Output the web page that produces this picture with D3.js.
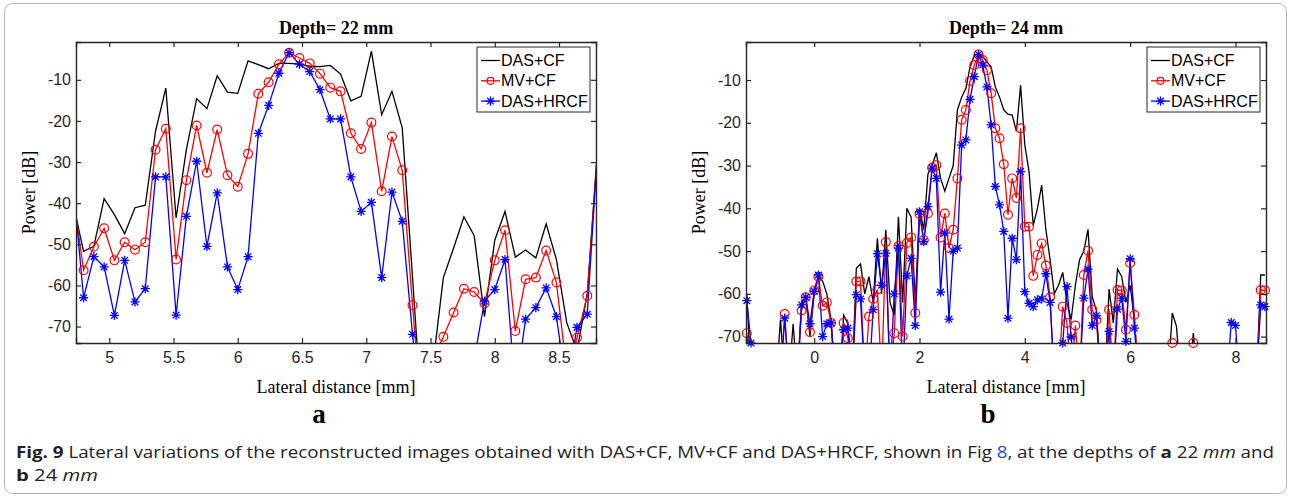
<!DOCTYPE html>
<html>
<head>
<meta charset="utf-8">
<script src="https://cdn.jsdelivr.net/npm/d3@7/dist/d3.min.js"></script>
<style>
  body { margin: 0; background: #fff; }
</style>
</head>
<body>
<div class="chart"></div>
<script>
// ---- data -------------------------------------------------------------
var seriesNames = ["DAS+CF", "MV+CF", "DAS+HRCF"];

// panel a (depth 22 mm): lateral positions [mm] and power [dB]
var latA = [4.72, 4.80, 4.88, 4.96, 5.04, 5.12, 5.20, 5.28, 5.36, 5.44, 5.52, 5.60, 5.68,
  5.76, 5.84, 5.92, 6.00, 6.08, 6.16, 6.24, 6.32, 6.40, 6.48, 6.56, 6.64, 6.72, 6.80,
  6.88, 6.96, 7.04, 7.12, 7.20, 7.28, 7.36, 7.44, 7.52, 7.60, 7.68, 7.76, 7.84, 7.92,
  8.00, 8.08, 8.16, 8.24, 8.32, 8.40, 8.48, 8.56, 8.64, 8.72, 8.80];
var dasCfA = [-40.3, -51.7, -50.5, -38.9, -42.8, -47.4, -41.1, -40.5, -22.5, -12, -43.6, -27, -14.6,
  -17, -9, -13, -13.3, -5.4, -6.3, -7.3, -6, -6, -6.2, -6.7, -6.8, -6.5, -8.6,
  -15.1, -14, -3, -18.5, -12.8, -21.7, -58, -95, -79, -58.1, -50.9, -43.3, -47.9, -67.6,
  -49, -42, -53.1, -51.4, -53.3, -45, -53.7, -69, -76, -62, -27];
var mvCfA = [-38.4, -56.3, -50.6, -46.1, -53.9, -49.5, -51.3, -49.5, -27, -21.9, -53.7, -34.4, -21.1,
  -32.6, -22.1, -33.2, -36, -28, -13.4, -10.6, -6.2, -3.4, -4.7, -6, -8.5, -11.9, -12.8,
  -23, -26.8, -20.4, -37.1, -23.8, -32, -64.8, -95, -78, -72.5, -66.6, -60.8, -61.6, -64.4,
  -53.9, -46.6, -71.1, -58.5, -58.1, -51.5, -59.3, -80.7, -72.7, -62.5, -27];
var dasHrcfA = [-35.6, -63, -53, -55.5, -67.3, -53.9, -64, -60.8, -33.6, -33.6, -67.2, -43.2, -29.8,
  -50.5, -37.5, -55.5, -61, -53, -23, -16.2, -8.4, -3.4, -6.2, -8, -12.4, -19.5, -19.5,
  -33.6, -42, -39.8, -58.1, -37.3, -44.4, -71.9, -95, -95, -95, -95, -95, -78, -63.8,
  -61, -53.7, -86, -68.2, -65.4, -60.6, -67.6, -85, -70.2, -67, -27];

// panel b (depth 24 mm); -80 = below the plotted range
var latB = [-1.28, -1.20, -1.12, -1.04, -0.96, -0.88, -0.80, -0.72, -0.64, -0.56,
  -0.48, -0.40, -0.32, -0.24, -0.16, -0.08, 0.00, 0.08, 0.16, 0.24,
  0.32, 0.40, 0.48, 0.56, 0.64, 0.72, 0.80, 0.88, 0.96, 1.04,
  1.12, 1.20, 1.28, 1.36, 1.44, 1.52, 1.60, 1.68, 1.76, 1.84,
  1.92, 2.00, 2.08, 2.16, 2.24, 2.32, 2.40, 2.48, 2.56, 2.64,
  2.72, 2.80, 2.88, 2.96, 3.04, 3.12, 3.20, 3.28, 3.36, 3.44,
  3.52, 3.60, 3.68, 3.76, 3.84, 3.92, 4.00, 4.08, 4.16, 4.24,
  4.32, 4.40, 4.48, 4.56, 4.64, 4.72, 4.80, 4.88, 4.96, 5.04,
  5.12, 5.20, 5.28, 5.36, 5.44, 5.52, 5.60, 5.68, 5.76, 5.84,
  5.92, 6.00, 6.08, 6.16, 6.24, 6.32, 6.40, 6.48, 6.56, 6.64,
  6.72, 6.80, 6.88, 6.96, 7.04, 7.12, 7.20, 7.28, 7.36, 7.44,
  7.52, 7.60, 7.68, 7.76, 7.84, 7.92, 8.00, 8.08, 8.16, 8.24,
  8.32, 8.40, 8.48, 8.56];
var dasCfB = [-60, -80, -80, -80, -80, -80, -80, -80, -66, -80,
  -80, -67, -80, -62, -61, -70, -60, -56, -57, -60,
  -66, -80, -80, -65, -67, -80, -54, -53, -60, -56,
  -62, -47, -60, -45, -62, -65, -42, -62, -40, -42,
  -62, -40, -45, -32, -30, -27, -33, -36, -33, -30,
  -17, -14, -12, -7, -4.2, -4, -4.5, -5.7, -6.9, -11.6,
  -14, -17, -18, -18.2, -22, -11.2, -25.2, -31.4, -44, -40,
  -34.6, -45, -52, -60, -58, -55, -62, -66, -58, -52,
  -50, -44.9, -60.6, -64, -80, -80, -58.9, -66.8, -54.2, -56,
  -62, -58, -66, -80, -80, -80, -80, -80, -80, -80,
  -80, -64.5, -67.6, -80, -80, -80, -69.2, -80, -80, -80,
  -80, -80, -80, -80, -80, -80, -80, -80, -80, -80,
  -80, -80, -55.6, -55.6];
var mvCfB = [-69.2, -80, -80, -80, -80, -80, -80, -80, -80, -64.7,
  -80, -80, -80, -63.9, -60.8, -69, -59.2, -56, -62.8, -62,
  -66.8, -80, -80, -66.8, -70.4, -80, -57.1, -57.1, -80, -65.3,
  -61.2, -59, -80, -47.9, -80, -69.2, -48.8, -70, -48.1, -46.8,
  -64.5, -41.3, -47.4, -41.2, -30.5, -29.9, -46.8, -41.2, -49.3, -45,
  -33, -19.3, -17, -10.2, -6.5, -4, -5.3, -7.7, -13.1, -21.3,
  -23.6, -29.7, -41.5, -33, -37.6, -21.3, -44.3, -44.3, -55.8, -50.9,
  -48.2, -53.4, -60.8, -80, -80, -63, -66.8, -80, -67.4, -80,
  -55.6, -49.9, -63.7, -66.1, -80, -80, -63.7, -80, -59.1, -59.2,
  -68.4, -52.8, -64.9, -80, -80, -80, -80, -80, -80, -80,
  -80, -71.5, -80, -80, -80, -80, -71.5, -80, -80, -80,
  -80, -80, -80, -80, -80, -80, -80, -80, -80, -80,
  -80, -80, -59.1, -59.2];
var dasHrcfB = [-61.6, -71.5, -80, -80, -80, -80, -80, -80, -80, -65.7,
  -80, -80, -80, -62.6, -60.8, -67, -59.4, -55.6, -70, -67,
  -66.8, -80, -80, -68.4, -68, -80, -60.2, -61.2, -80, -80,
  -63.7, -50.6, -58, -50.5, -80, -60, -49.3, -80, -55.8, -51.7,
  -67.4, -40.8, -47.8, -39.6, -30.6, -33, -59.6, -45.8, -65.9, -50,
  -49.3, -25.2, -24, -14.5, -9.2, -4, -6.5, -11.6, -20.5, -34.9,
  -39.2, -45.4, -65.7, -47, -52, -31.4, -59.5, -62.2, -63, -61.4,
  -61.2, -55.3, -62, -80, -80, -71.5, -58.3, -70.1, -80, -80,
  -61, -54.2, -67.4, -65.1, -80, -80, -68.8, -80, -63.6, -61,
  -71.1, -51.8, -68, -80, -80, -80, -80, -80, -80, -80,
  -80, -80, -80, -80, -80, -80, -80, -80, -80, -80,
  -80, -80, -80, -80, -80, -66.7, -67.4, -80, -80, -80,
  -80, -80, -62.6, -63];

var ticksA = [5, 5.5, 6, 6.5, 7, 7.5, 8, 8.5];
var ticksB = [0, 2, 4, 6, 8];
var ticksY = [-70, -60, -50, -40, -30, -20, -10];

// ---- drawing ----------------------------------------------------------
var svg = d3.select(".chart").append("svg")
  .attr("width", 1291)
  .attr("height", 497)
  .style("display", "block");

// rounded figure frame
svg.append("rect")
  .attr("x", 4.5).attr("y", 3.5)
  .attr("width", 1282).attr("height", 490)
  .attr("rx", 8)
  .attr("fill", "none")
  .attr("stroke", "#b5b5b5");

var colors = ["#000000", "#ff0000", "#0000ff"];

function star(g, x, y, c) {
  var s = 4.6, d = 3.3;
  g.append("path")
    .attr("d", `M${x - s},${y}H${x + s}M${x},${y - s}V${y + s}` +
      `M${x - d},${y - d}L${x + d},${y + d}M${x - d},${y + d}L${x + d},${y - d}`)
    .attr("stroke", c).attr("stroke-width", 1.3).attr("fill", "none");
}

function drawPanel(p) {
  var g = svg.append("g").attr("transform", `translate(${p.left}, ${p.top})`);
  var w = p.width, h = p.height;

  var x = d3.scaleLinear().domain(p.xDomain).range([0, w]);
  var y = d3.scaleLinear().domain(p.yDomain).range([h, 0]);

  g.append("clipPath").attr("id", p.id)
    .append("rect").attr("width", w).attr("height", h);

  var line = d3.line()
    .x((d, i) => x(p.lat[i]))
    .y(d => y(d));

  var series = [p.das, p.mv, p.hrcf];
  series.forEach(function(s, k) {
    g.append("path")
      .datum(s)
      .attr("d", line)
      .attr("clip-path", `url(#${p.id})`)
      .attr("fill", "none")
      .attr("stroke", colors[k])
      .attr("stroke-width", 1.3)
      .attr("stroke-linejoin", "miter");
  });

  // markers (drawn only where the point lies inside the axes)
  var inside = i => p.lat[i] >= p.xDomain[0] - 1e-6 && p.lat[i] <= p.xDomain[1] + 1e-6;
  p.mv.forEach(function(v, i) {
    if (v >= p.yDomain[0] - 0.05 && inside(i)) {
      g.append("circle")
        .attr("cx", x(p.lat[i])).attr("cy", y(Math.max(v, p.yDomain[0])))
        .attr("r", 4.4)
        .attr("fill", "none").attr("stroke", colors[1]).attr("stroke-width", 1.2);
    }
  });
  p.hrcf.forEach(function(v, i) {
    if (v >= p.yDomain[0] - 0.05 && inside(i)) {
      star(g, x(p.lat[i]), y(Math.max(v, p.yDomain[0])), colors[2]);
    }
  });

  // axes with inward ticks, box on
  var axisColor = "#262626";
  var xb = g.append("g").attr("transform", `translate(0, ${h})`)
    .call(d3.axisBottom(x).tickValues(p.xTicks).tickSize(-5).tickPadding(9).tickFormat(d3.format("")));
  var xt = g.append("g")
    .call(d3.axisTop(x).tickValues(p.xTicks).tickSize(-5).tickFormat(""));
  var yl = g.append("g")
    .call(d3.axisLeft(y).tickValues(ticksY).tickSize(-5).tickPadding(5));
  var yr = g.append("g").attr("transform", `translate(${w}, 0)`)
    .call(d3.axisRight(y).tickValues(ticksY).tickSize(-5).tickFormat(""));

  [xb, xt, yl, yr].forEach(function(a) {
    a.select(".domain").attr("stroke", axisColor).attr("stroke-width", 1.4);
    a.selectAll(".tick line").attr("stroke", axisColor).attr("stroke-width", 1.2);
    a.selectAll("text")
      .attr("fill", "#262626")
      .style("font-family", "'Liberation Sans', Arial, sans-serif")
      .style("font-size", "16px");
  });
  yl.selectAll("text").text(d => String(d));

  // title and labels
  g.append("text")
    .attr("x", w / 2).attr("y", -8)
    .attr("text-anchor", "middle")
    .style("font-family", "'Liberation Serif', 'Times New Roman', serif")
    .style("font-weight", "bold")
    .style("font-size", "18px")
    .text(p.title);

  g.append("text")
    .attr("x", w / 2).attr("y", h + 50)
    .attr("text-anchor", "middle")
    .style("font-family", "'Liberation Serif', 'Times New Roman', serif")
    .style("font-size", "18px")
    .text("Lateral distance [mm]");

  g.append("text")
    .attr("transform", `translate(${-41}, ${h / 2}) rotate(-90)`)
    .attr("text-anchor", "middle")
    .style("font-family", "'Liberation Serif', 'Times New Roman', serif")
    .style("font-size", "18px")
    .text("Power [dB]");

  g.append("text")
    .attr("x", w / 2 + p.letterDx).attr("y", h + 80)
    .attr("text-anchor", "middle")
    .style("font-family", "'Liberation Serif', 'Times New Roman', serif")
    .style("font-weight", "bold")
    .style("font-size", "27px")
    .text(p.letter);

  // legend
  var lg = g.append("g").attr("transform", `translate(${w - 119}, 5)`);
  lg.append("rect")
    .attr("width", 113).attr("height", 65)
    .attr("fill", "#fff").attr("stroke", "#262626").attr("stroke-width", 1);
  seriesNames.forEach(function(name, k) {
    var cy = 13.5 + k * 20.3;
    lg.append("line")
      .attr("x1", 4).attr("x2", 23).attr("y1", cy).attr("y2", cy)
      .attr("stroke", colors[k]).attr("stroke-width", 1.3);
    if (k === 1) {
      lg.append("circle").attr("cx", 13.5).attr("cy", cy).attr("r", 3.5)
        .attr("fill", "none").attr("stroke", colors[1]).attr("stroke-width", 1.2);
    }
    if (k === 2) star(lg, 13.5, cy, colors[2]);
    lg.append("text")
      .attr("x", 24).attr("y", cy + 5.5)
      .style("font-family", "'Liberation Sans', Arial, sans-serif")
      .style("font-size", "16px")
      .attr("fill", "#000")
      .text(name);
  });
}

drawPanel({
  id: "clipA", left: 76, top: 42, width: 520, height: 301,
  xDomain: [4.741, 8.788], yDomain: [-74, -0.8],
  xTicks: ticksA, lat: latA, das: dasCfA, mv: mvCfA, hrcf: dasHrcfA,
  title: "Depth= 22 mm", letter: "a", letterDx: -17
});

drawPanel({
  id: "clipB", left: 746, top: 42, width: 520, height: 301,
  xDomain: [-1.295, 8.58], yDomain: [-71.5, -1.1],
  xTicks: ticksB, lat: latB, das: dasCfB, mv: mvCfB, hrcf: dasHrcfB,
  title: "Depth= 24 mm", letter: "b", letterDx: -18
});

// caption
var cap = svg.append("g")
  .style("font-family", "'Open Sans', 'Noto Sans', sans-serif")
  .style("font-size", "16px")
  .attr("fill", "#222");

var line1 = cap.append("text").attr("x", 16).attr("y", 458)
  .attr("textLength", 1258).attr("lengthAdjust", "spacingAndGlyphs");
line1.append("tspan").style("font-weight", "bold").text("Fig. 9");
line1.append("tspan").text(" Lateral variations of the reconstructed images obtained with DAS+CF, MV+CF and DAS+HRCF, shown in Fig ");
line1.append("tspan").attr("fill", "#1a4bd6").text("8");
line1.append("tspan").text(", at the depths of ");
line1.append("tspan").style("font-weight", "bold").text("a");
line1.append("tspan").text(" 22 ");
line1.append("tspan").style("font-style", "italic").text("mm");
line1.append("tspan").text(" and");

var line2 = cap.append("text").attr("x", 16).attr("y", 481)
  .attr("textLength", 82).attr("lengthAdjust", "spacingAndGlyphs");
line2.append("tspan").style("font-weight", "bold").text("b");
line2.append("tspan").text(" 24 ");
line2.append("tspan").style("font-style", "italic").text("mm");
</script>
</body>
</html>
